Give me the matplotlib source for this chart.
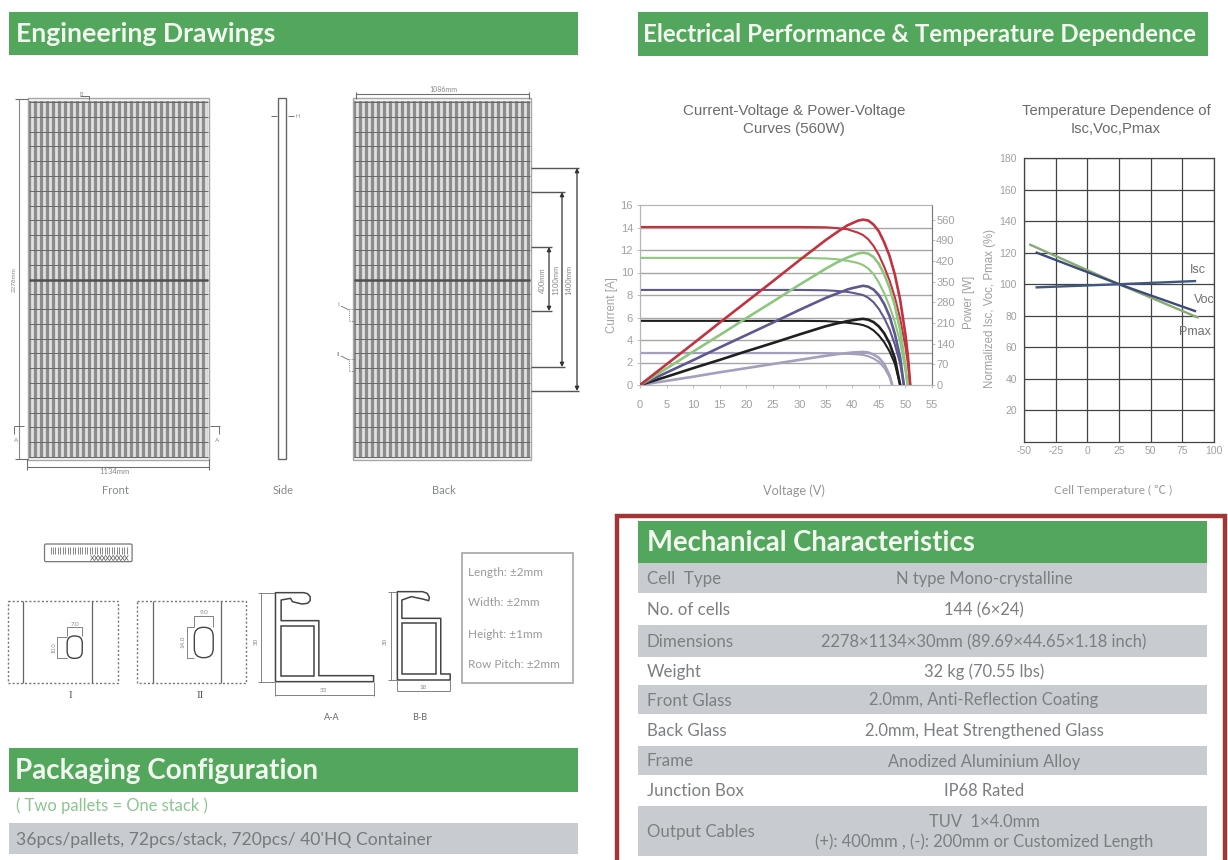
import numpy as np
import matplotlib
matplotlib.use('Agg')
import matplotlib.pyplot as plt
from matplotlib.patches import Rectangle, FancyBboxPatch

plt.rcParams['axes.unicode_minus'] = False

W, H = 1228, 860

# I-V / P-V curves, one set for each irradiance level
voltage_base = [0, 5, 10, 15, 20, 25, 30, 35, 37, 38, 39, 40, 41, 42, 43, 44, 45, 46, 47]
red_v = voltage_base + [48, 49, 50, 50.5, 50.9]
red_i = [14.05, 14.05, 14.05, 14.05, 14.05, 14.05, 14.05, 14.02, 13.95, 13.9, 13.85, 13.7, 13.55, 13.33,
         12.95, 12.35, 11.55, 10.5, 9.3, 7.8, 5.9, 3.4, 1.8, 0]
red_p = [0, 70, 140, 211, 281, 351, 422, 491, 516, 528, 540, 548, 556, 560, 557, 543, 520, 483, 437, 374,
         289, 170, 91, 0]
green_v = voltage_base + [48, 49, 50, 50.4]
green_i = [11.3, 11.3, 11.3, 11.3, 11.3, 11.3, 11.3, 11.25, 11.18, 11.12, 11.05, 10.95, 10.85, 10.67,
           10.35, 9.85, 9.1, 8.15, 7.0, 5.6, 3.8, 1.3, 0]
green_p = [0, 56, 113, 169, 226, 282, 339, 394, 414, 423, 431, 438, 445, 448, 445, 433, 410, 375, 329, 269,
           186, 65, 0]
purple_v = voltage_base + [48, 49, 49.7]
purple_i = [8.45, 8.45, 8.45, 8.45, 8.45, 8.45, 8.45, 8.42, 8.36, 8.32, 8.28, 8.2, 8.1, 8.0, 7.75, 7.35,
            6.75, 5.95, 4.95, 3.6, 1.9, 0]
purple_p = [0, 42, 84, 127, 169, 211, 254, 295, 309, 316, 323, 328, 332, 336, 333, 323, 304, 274, 233, 173,
            93, 0]
black_v = voltage_base + [48, 49]
black_i = [5.7, 5.7, 5.7, 5.7, 5.7, 5.7, 5.7, 5.68, 5.62, 5.58, 5.54, 5.48, 5.42, 5.33, 5.15, 4.85, 4.4,
           3.8, 3.0, 1.9, 0]
black_p = [0, 28, 57, 85, 114, 142, 171, 199, 208, 212, 216, 219, 222, 224, 221, 213, 198, 175, 141, 91, 0]
gray_v = voltage_base + [47.5]
gray_i = [2.85, 2.85, 2.85, 2.85, 2.85, 2.85, 2.85, 2.84, 2.82, 2.8, 2.78, 2.75, 2.72, 2.67, 2.55, 2.35,
          2.05, 1.55, 0.7, 0]
gray_p = [0, 14, 28, 43, 57, 71, 85, 99, 104, 106, 108, 110, 111, 112, 110, 103, 92, 71, 33, 0]
iv_grid = [2, 2.85, 4, 6, 8, 10, 12, 14]

# temperature dependence
temp_isc = [-40, 25, 85]
isc = [98, 100, 102]
temp_voc = [-40, 25, 85]
voc = [120, 100, 83]
temp_pmax = [-45, 25, 87]
pmax = [125, 100, 79]

# tables
mech_labels = ['Cell  Type', 'No. of cells', 'Dimensions', 'Weight', 'Front Glass', 'Back Glass', 'Frame',
               'Junction Box', 'Output Cables']
mech_values = ['N type Mono-crystalline', '144 (6×24)', '2278×1134×30mm (89.69×44.65×1.18 inch)',
               '32 kg (70.55 lbs)', '2.0mm, Anti-Reflection Coating', '2.0mm, Heat Strengthened Glass',
               'Anodized Aluminium Alloy', 'IP68 Rated',
               'TUV  1×4.0mm\n(+): 400mm , (-): 200mm or Customized Length']
mech_edges = [563, 593, 625, 657, 685, 714, 746, 775, 806, 856]
tolerances = ['Length: ±2mm', 'Width: ±2mm', 'Height: ±1mm', 'Row Pitch: ±2mm']

GREEN = '#52a75c'
BAND = '#c8ccd0'
TXT = '#85888b'
LINE = '#6e6e6e'
SANS = ['Lato', 'DejaVu Sans']
ARIAL = ['Liberation Sans', 'DejaVu Sans']

fig = plt.figure(figsize=(W / 100, H / 100), dpi=100)
bg = fig.add_axes([0, 0, 1, 1])
bg.set_xlim(0, W)
bg.set_ylim(H, 0)
bg.axis('off')


def txt(x, y, s, size=9, color=TXT, ha='center', family=SANS, **kw):
    bg.text(x, y, s, fontsize=size, color=color, ha=ha, va='center', family=family, **kw)


def seg(xs, ys, lw=0.8, color=LINE, **kw):
    bg.plot(xs, ys, lw=lw, color=color, solid_capstyle='butt', **kw)


def band(x0, y0, x1, y1, color):
    bg.add_patch(Rectangle((x0, y0), x1 - x0, y1 - y0, fc=color, ec='none'))


def header(x0, y0, x1, y1, s, size=19, dx=7, **kw):
    band(x0, y0, x1, y1, GREEN)
    txt(x0 + dx, (y0 + y1) / 2 + 1, s, size=size, color='#f2f8f0', ha='left', fontweight='bold', **kw)


def panel(x0, y0, x1, y1):
    # solar panel drawing: frame, cell stripes, rows
    bg.add_patch(Rectangle((x0, y0), x1 - x0, y1 - y0, fc='#f2f2f2', ec='#a8a8a8', lw=1))
    ix0, iy0, ix1, iy1 = x0 + 1, y0 + 3, x1 - 1, y1 - 2
    band(ix0, iy0, ix1, iy1, '#8c8c8c')
    for x in np.arange(ix0 + 3, ix1, 6.0):
        seg([x, x], [iy0, iy1], lw=2, color='#e0e0e0')
    for y in np.linspace(iy0 + 1, iy1 - 1, 25):
        seg([ix0, ix1], [y, y], lw=0.7, color='#666666')
    seg([ix0, ix1], [280, 280], lw=1.8, color='#4f4f4f')


# ---- section headers
header(9, 12, 578, 55, 'Engineering Drawings', size=19.2)
header(638, 12, 1208, 56, 'Electrical Performance & Temperature Dependence', size=17.4, dx=5)
header(9, 748, 578, 792, 'Packaging Configuration', size=20, dx=6)

# ---- engineering drawings
panel(28, 98, 209, 460)
panel(353, 98, 531, 460)
bg.add_patch(Rectangle((278, 98), 8, 361, fc='white', ec='#666666', lw=1))
seg([15, 28], [99, 99])
seg([15, 28], [459, 459])
seg([19, 19], [99, 459], color='#888888')
txt(14, 280, '2278mm', size=4.5, rotation=90)
seg([27, 209], [467, 467])
seg([27, 27], [459, 470])
seg([209, 209], [459, 470])
txt(114, 472, '1134mm', size=5.5)
seg([80, 89, 89], [96, 96, 100], lw=0.7)
txt(81, 95, 'B', size=4)
seg([14, 24], [426, 426], lw=0.7)
seg([14, 14], [426, 434], lw=0.7)
txt(16, 440, 'A', size=4.5)
seg([210, 220], [426, 426], lw=0.7)
seg([219, 219], [426, 434], lw=0.7)
txt(217, 440, 'A', size=4.5)
seg([271, 277], [116, 116], lw=0.7)
seg([288, 294], [116, 116], lw=0.7)
txt(298, 116, 'H', size=4)
txt(115, 490, 'Front', size=8)
txt(283, 490, 'Side', size=8)
txt(444, 490, 'Back', size=8)

seg([356, 529], [94, 94])
seg([356, 356], [92, 99])
seg([529, 529], [92, 99])
txt(443, 89, '1086mm', size=5)
for y in [168, 192, 247, 311, 367, 391]:
    xr = {168: 579, 192: 565, 247: 552, 311: 552, 367: 565, 391: 579}[y]
    seg([531, xr], [y, y], lw=1, color='#555555')
for x, y0, y1, label, lx in [(577, 168, 391, '1400mm', 569), (562, 192, 367, '1100mm', 556),
                             (549, 247, 311, '400mm', 542)]:
    bg.annotate('', (x, y0), (x, y1), arrowprops=dict(arrowstyle='<|-|>', color='#333333', lw=0.9,
                                                      mutation_scale=6, shrinkA=0, shrinkB=0))
    txt(lx, 280, label, size=5.5, rotation=90)
for y, label in [(312, 'I'), (362, 'II')]:
    bg.add_patch(Rectangle((349, y - 3), 10, 12, fc='none', ec='#555555', lw=0.6, ls=':'))
    seg([341, 349], [y - 6, y - 2], lw=0.6)
    txt(338, y - 8, label, size=4.5)


def zx(x):
    return x / 2.65


def zy(y):
    return 530 + y / 3


def zseg(xs, ys, **kw):
    seg([zx(v) for v in xs], [zy(v) for v in ys], **kw)


def zrect(x0, y0, x1, y1, **kw):
    bg.add_patch(Rectangle((zx(x0), zy(y0)), zx(x1) - zx(x0), zy(y1) - zy(y0), **kw))


# connector strip
bg.add_patch(FancyBboxPatch((zx(118), zy(42)), zx(350) - zx(118), zy(95) - zy(42),
                            boxstyle='round,pad=0,rounding_size=1.5', fc='white', ec='#777777', lw=0.9))
for x in np.arange(134, 338, 6.5):
    zseg([x, x], [50, 72], lw=0.5, color='#555555')
for x in np.arange(240, 335, 10):
    zseg([x, x + 10], [76, 92], lw=0.5, color='#555555')
    zseg([x, x + 10], [92, 76], lw=0.5, color='#555555')

# details I and II
for x0, x1, v0, v1 in [(22, 312, 62, 245), (362, 652, 405, 585)]:
    zrect(x0, 212, x1, 458, fc='none', ec='#777777', lw=1, ls=(0, (1.5, 1.5)))
    zseg([v0, v0], [212, 458], lw=0.9, color='#666666')
    zseg([v1, v1], [212, 458], lw=0.9, color='#666666')
bg.add_patch(FancyBboxPatch((zx(178), zy(318)), zx(218) - zx(178), zy(385) - zy(318),
                            boxstyle='round,pad=0,rounding_size=7', fc='white', ec='#444444', lw=1))
bg.add_patch(FancyBboxPatch((zx(515), zy(292)), zx(565) - zx(515), zy(383) - zy(292),
                            boxstyle='round,pad=0,rounding_size=9', fc='white', ec='#444444', lw=1))
zseg([178, 178, 218, 218], [318, 290, 290, 318], lw=0.6)
zseg([178, 152, 152, 178], [320, 320, 385, 385], lw=0.6)
zseg([515, 515, 565, 565], [292, 258, 258, 292], lw=0.6)
zseg([515, 496, 496, 515], [292, 292, 383, 383], lw=0.6)
txt(zx(198), zy(282), '7.0', size=4.5)
txt(zx(144), zy(352), '10.0', size=4, rotation=90)
txt(zx(540), zy(249), '9.0', size=4.5)
txt(zx(484), zy(335), '14.0', size=4.5, rotation=90)
txt(zx(187), zy(497), 'I', size=8, color='#555555', family=['Liberation Serif', 'DejaVu Serif'])
txt(zx(530), zy(497), 'II', size=8, color='#555555', family=['Liberation Serif', 'DejaVu Serif'])

# frame section A-A
zseg([730, 730, 805, 815, 822, 822, 815, 800, 775, 770, 745, 745, 845, 845, 990, 990, 730],
     [455, 188, 188, 191, 200, 212, 220, 222, 215, 205, 210, 272, 272, 437, 437, 455, 455],
     lw=1.1, color='#444444')
zrect(745, 287, 832, 437, fc='none', ec='#444444', lw=1.1)
zseg([685, 730], [188, 188], lw=0.6)
zseg([685, 730], [455, 455], lw=0.6)
zseg([692, 692], [188, 455], lw=0.6)
zseg([730, 990], [495, 495], lw=0.6)
zseg([730, 730], [455, 498], lw=0.6)
zseg([990, 990], [455, 498], lw=0.6)
txt(zx(680), zy(335), '30', size=4.5, rotation=90)
txt(zx(858), zy(482), '33', size=4.5)
txt(zx(878), zy(563), 'A-A', size=6.5, color='#666666')

# frame section B-B
zseg([1053, 1053, 1120, 1132, 1138, 1136, 1120, 1090, 1065, 1065, 1168, 1168, 1193, 1193, 1053],
     [450, 185, 185, 190, 202, 212, 207, 200, 210, 265, 265, 432, 432, 450, 450], lw=1.1, color='#444444')
zrect(1065, 278, 1155, 432, fc='none', ec='#444444', lw=1.1)
zseg([1028, 1053], [185, 185], lw=0.6)
zseg([1028, 1053], [450, 450], lw=0.6)
zseg([1035, 1035], [185, 450], lw=0.6)
zseg([1053, 1193], [482, 482], lw=0.6)
zseg([1053, 1053], [450, 484], lw=0.6)
zseg([1193, 1193], [450, 484], lw=0.6)
txt(zx(1020), zy(335), '30', size=4.5, rotation=90)
txt(zx(1120), zy(472), '18', size=4.5)
txt(zx(1112), zy(563), 'B-B', size=6.5, color='#666666')

# tolerance box
bg.add_patch(Rectangle((462, 553), 111, 130, fc='white', ec='#a5a5a5', lw=1.2))
for y, s in zip([573, 603, 634, 665], tolerances):
    txt(468, y, s, size=8.5, ha='left', color='#9a9a9a')

# ---- packaging
txt(16, 806, '( Two pallets = One stack )', size=11.9, color='#8cc58f', ha='left')
band(9, 823, 578, 854, BAND)
txt(16, 840, "36pcs/pallets, 72pcs/stack, 720pcs/ 40'HQ Container", size=12.6, color='#777a7d', ha='left')

# ---- mechanical table
bg.add_patch(Rectangle((617, 516), 608, 350, fc='white', ec='#a23636', lw=3.2))
header(638, 521, 1207, 563, 'Mechanical Characteristics', size=19.8, dx=9)
for i, (lab, val) in enumerate(zip(mech_labels, mech_values)):
    y0, y1 = mech_edges[i], mech_edges[i + 1]
    if i % 2 == 0:
        band(638, y0, 1207, y1, BAND)
    txt(647, (y0 + y1) / 2 + 1, lab, size=12.2, ha='left', color='#7c7f82')
    txt(984, (y0 + y1) / 2 + 1, val, size=11.9, color='#7c7f82', linespacing=1.25)

# ---- I-V / P-V chart
left, right, top, bottom = 640, 932, 205, 385
ax1 = fig.add_axes([left / W, 1 - bottom / H, (right - left) / W, (bottom - top) / H], zorder=2)
ax1.patch.set_alpha(0)
ax1.set_xlim(0, 55)
ax1.set_ylim(0, 16)
ax1.set_xticks(np.arange(0, 56, 5))
ax1.set_yticks(np.arange(0, 17, 2))
for y in iv_grid:
    ax1.axhline(y, color='#a6a6a6', lw=1, zorder=1)
ax2 = ax1.twinx()
ax2.set_ylim(0, 609.5)
ax2.set_yticks(np.arange(0, 561, 70))
curves = [(gray_v, gray_i, gray_p, '#a39fbd'), (black_v, black_i, black_p, '#1f1f1f'),
          (purple_v, purple_i, purple_p, '#5f5890'), (green_v, green_i, green_p, '#8dc67c'),
          (red_v, red_i, red_p, '#c2323f')]
for v, i_vals, p_vals, col in curves:
    ax1.plot(v, i_vals, color=col, lw=1.5, zorder=3)
    ax2.plot(v, p_vals, color=col, lw=1.9, zorder=3)
for ax in (ax1, ax2):
    for sp in ax.spines.values():
        sp.set_color('#b5b5b5')
    ax.tick_params(colors='#a0a0a0', labelsize=8, length=2, width=0.6, color='#b5b5b5', pad=3)
    for lab in ax.get_xticklabels() + ax.get_yticklabels():
        lab.set_family(ARIAL)
ax1.tick_params(axis='x', pad=9)
ax2.tick_params(axis='y', pad=1)
ax2.spines['right'].set_color('#777777')
txt(794, 120, 'Current-Voltage & Power-Voltage\nCurves (560W)', size=10.9, color='#6b6b6b', family=ARIAL,
    linespacing=1.4)
txt(612, 305, 'Current [A]', size=8.3, color='#a0a0a0', rotation=90, family=ARIAL)
txt(969, 302, 'Power [W]', size=8.3, color='#a0a0a0', rotation=90, family=ARIAL)
txt(794, 491, 'Voltage (V)', size=9.2, color='#979797')

# ---- temperature chart
left, right, top, bottom = 1024, 1214, 158, 442
ax3 = fig.add_axes([left / W, 1 - bottom / H, (right - left) / W, (bottom - top) / H], zorder=2)
ax3.patch.set_alpha(0)
ax3.set_xlim(-50, 100)
ax3.set_ylim(0, 180)
ax3.set_xticks(np.arange(-50, 101, 25))
ax3.set_yticks(np.arange(20, 181, 20))
ax3.grid(True, color='#444444', lw=0.9)
ax3.set_axisbelow(True)
ax3.plot(temp_pmax, pmax, color='#86ab72', lw=1.7)
ax3.plot(temp_voc, voc, color='#3f4a78', lw=1.7)
ax3.plot(temp_isc, isc, color='#40587f', lw=1.7)
for sp in ax3.spines.values():
    sp.set_color('#444444')
    sp.set_linewidth(0.9)
ax3.tick_params(colors='#a0a0a0', labelsize=7.5, length=0, pad=3)
ax3.tick_params(axis='y', pad=5)
for lab in ax3.get_xticklabels() + ax3.get_yticklabels():
    lab.set_family(ARIAL)
ax3.text(87, 109, 'Isc', fontsize=9, color='#707070', ha='center', va='center', family=ARIAL)
ax3.text(92, 90, 'Voc', fontsize=9, color='#707070', ha='center', va='center', family=ARIAL)
ax3.text(85, 70, 'Pmax', fontsize=9, color='#707070', ha='center', va='center', family=ARIAL)
txt(1116, 120, 'Temperature Dependence of\nIsc,Voc,Pmax', size=10.7, color='#6b6b6b', family=ARIAL,
    linespacing=1.4)
txt(990, 309, 'Normalized Isc, Voc, Pmax (%)', size=8.3, color='#a0a0a0', rotation=90, family=ARIAL)
txt(1113, 490, 'Cell Temperature ( ℃ )', size=8.6, color='#979797',
    family=['Lato', 'Noto Sans CJK SC', 'DejaVu Sans'])

fig.savefig('out.png', dpi=100)
